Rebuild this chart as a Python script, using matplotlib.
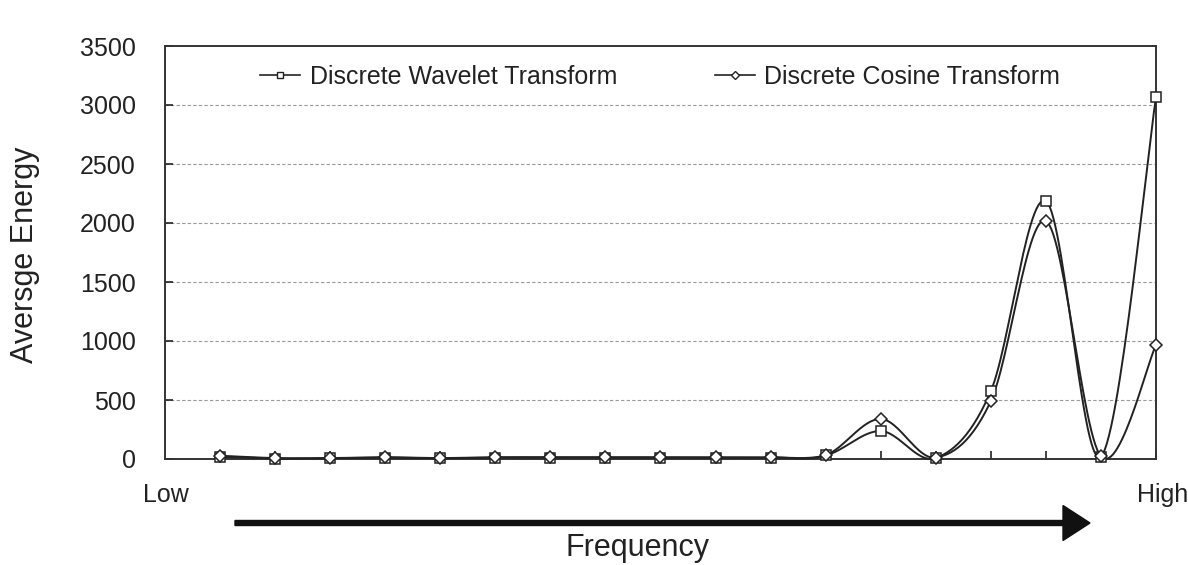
import numpy as np
import matplotlib
matplotlib.use("Agg")
import matplotlib.pyplot as plt
from matplotlib.patches import FancyArrow
from matplotlib.lines import Line2D

plt.rcParams['font.family'] = ['Liberation Sans', 'DejaVu Sans']

positions = list(range(1, 19))
dwt = [18, 4, 6, 12, 6, 12, 12, 12, 12, 12, 12, 30, 237, 8, 576, 2186, 20, 3068]
dct = [28, 8, 8, 15, 8, 15, 15, 15, 15, 15, 15, 32, 339, 12, 491, 2017, 22, 966]
series_names = ["Discrete Wavelet Transform", "Discrete Cosine Transform"]
y_ticks = [0, 500, 1000, 1500, 2000, 2500, 3000, 3500]


def smooth(xs, ys, n=30):
    xs = np.asarray(xs, float)
    ys = np.asarray(ys, float)
    px = np.concatenate([[xs[0]], xs, [xs[-1]]])
    py = np.concatenate([[ys[0]], ys, [ys[-1]]])
    ox, oy = [], []
    t = np.linspace(0, 1, n)
    for i in range(1, len(px) - 2):
        p0 = np.array([px[i], py[i]])
        p3 = np.array([px[i + 1], py[i + 1]])
        c1 = p0 + (np.array([px[i + 1], py[i + 1]]) - np.array([px[i - 1], py[i - 1]])) / 6
        c2 = p3 - (np.array([px[i + 2], py[i + 2]]) - np.array([px[i], py[i]])) / 6
        b = ((1 - t) ** 3)[:, None] * p0 + (3 * (1 - t) ** 2 * t)[:, None] * c1 \
            + (3 * (1 - t) * t ** 2)[:, None] * c2 + (t ** 3)[:, None] * p3
        ox.extend(b[:, 0]); oy.extend(b[:, 1])
    return ox, oy


fig = plt.figure(figsize=(11.88, 5.65), dpi=100)
ax = fig.add_axes([165 / 1188, 1 - 459 / 565, (1156 - 165) / 1188, (459 - 46) / 565])
ax.set_xlim(0, 18)
ax.set_ylim(0, 3500)

for ys, mk, ms in [(dwt, 's', 7), (dct, 'D', 6.5)]:
    sx, sy = smooth(positions, ys)
    ax.plot(sx, sy, color='#222222', lw=1.4, clip_on=False, zorder=3)
    ax.plot(positions, ys, ls='none', marker=mk, ms=ms, mfc='white', mec='#222222',
            mew=1.1, clip_on=False, zorder=4)

ax.set_yticks(y_ticks)
ax.set_xticks(positions)
ax.set_xticklabels([])
ax.tick_params(axis='both', direction='in', length=6, width=1.2, color='#222222')
ax.tick_params(axis='y', labelsize=18, pad=21)
for lbl in ax.get_yticklabels():
    lbl.set_color('#222222')
for yv in y_ticks[1:-1]:
    ax.axhline(yv, color='#999999', lw=0.8, ls=(0, (3, 2)), zorder=1)
for s in ax.spines.values():
    s.set_color('#333333'); s.set_linewidth(1.4)

fig.text(25 / 1188, 1 - 255 / 565, "Aversge Energy", fontsize=22, rotation=90,
         ha='center', va='center', color='#222222')

h1 = Line2D([], [], color='#222222', lw=1.2, marker='s', ms=5, mfc='white', mec='#222222')
h2 = Line2D([], [], color='#222222', lw=1.2, marker='D', ms=4.5, mfc='white', mec='#222222')
leg = ax.legend([h1, h2], series_names, loc='center', bbox_to_anchor=(660 / 1188, 1 - 77 / 565),
                bbox_transform=fig.transFigure, ncol=2, frameon=False, fontsize=18,
                handlelength=1.6, handletextpad=0.4, columnspacing=3.9, borderpad=0)
for t in leg.get_texts():
    t.set_color('#222222')

fig.text(166 / 1188, 1 - 495 / 565, "Low", fontsize=18, ha='center', va='center', color='#222222')
fig.text(1163 / 1188, 1 - 495 / 565, "High", fontsize=18, ha='center', va='center', color='#222222')
fig.text(637 / 1188, 1 - 548 / 565, "Frequency", fontsize=22, ha='center', va='center', color='#222222')

arr = FancyArrow(235, 565 - 523, 1090 - 235 - 27, 0, width=5, head_width=35, head_length=27,
                 length_includes_head=False, color='#111111', transform=None)
fig.add_artist(arr)

fig.savefig("out.png", dpi=100)
